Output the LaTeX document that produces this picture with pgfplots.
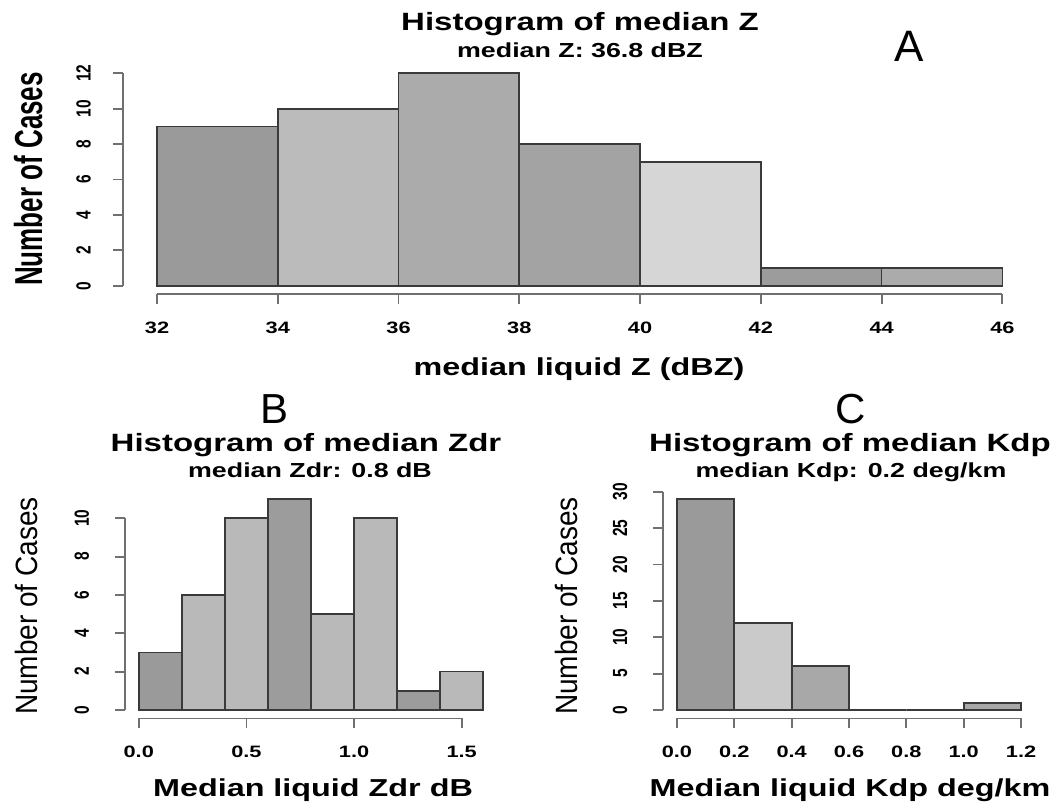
\documentclass[border=0pt]{standalone}
\usepackage{fontspec}
\setmainfont{Liberation Sans}
\usepackage{graphicx}
\usepackage{pgfplots}
\pgfplotsset{compat=1.18}

\definecolor{barline}{HTML}{3A3A3A}
\definecolor{axl}{HTML}{707070}
\definecolor{gA1}{HTML}{9A9A9A}
\definecolor{gA2}{HTML}{BBBBBB}
\definecolor{gA3}{HTML}{ABABAB}
\definecolor{gA4}{HTML}{A3A3A3}
\definecolor{gA5}{HTML}{D6D6D6}
\definecolor{gA6}{HTML}{9C9C9C}
\definecolor{gA7}{HTML}{ABABAB}
\definecolor{gBd}{HTML}{9C9C9C}
\definecolor{gBl}{HTML}{B9B9B9}
\definecolor{gC1}{HTML}{9A9A9A}
\definecolor{gC2}{HTML}{CACACA}
\definecolor{gC3}{HTML}{A8A8A8}

\newcommand{\hs}[1]{\scalebox{1.32}[1]{#1}}
\newcommand{\vs}[1]{\scalebox{1}[1.32]{#1}}
\newcommand{\fs}[1]{\fontsize{#1}{#1}\selectfont}

\tikzset{axln/.style={draw=axl, line width=1.8pt}}
\pgfplotsset{
  rhist/.style={
    scale only axis, clip=false, anchor=south west,
    axis x line*=bottom, axis y line*=left,
    axis line style={draw=none},
    tick align=outside,
    major tick length=10pt,
    tick style={axl, line width=1.8pt},
    xticklabel style={anchor=base, yshift=-29.5pt, font=\bfseries\fs{16.5}},
    yticklabel style={xshift=#1, rotate=90, anchor=base, font=\bfseries\fs{15.5}},
    /pgf/number format/assume math mode=true,
  },
  rhist/.default=-22.5pt,
  hbar/.style={fill=#1, draw=barline, line width=1.7pt},
}

\begin{document}
\begin{tikzpicture}
\path[use as bounding box] (0,0) rectangle (1060pt,806pt);

% ---------------- Panel A ----------------
\begin{axis}[rhist, at={(123.2pt,511.8pt)}, width=913pt, height=229.4pt,
  xmin=31.44, xmax=46.56, ymin=-0.48, ymax=12.48,
  xtick={32,34,36,38,40,42,44,46},
  xticklabels={\hs{32},\hs{34},\hs{36},\hs{38},\hs{40},\hs{42},\hs{44},\hs{46}},
  ytick={0,2,4,6,8,10,12},
  yticklabels={\vs{0},\vs{2},\vs{4},\vs{6},\vs{8},\vs{10},\vs{12}}]
\addplot[hbar=gA1] coordinates {(32,9) (34,9)} \closedcycle;
\addplot[hbar=gA2] coordinates {(34,10) (36,10)} \closedcycle;
\addplot[hbar=gA3] coordinates {(36,12) (38,12)} \closedcycle;
\addplot[hbar=gA4] coordinates {(38,8) (40,8)} \closedcycle;
\addplot[hbar=gA5] coordinates {(40,7) (42,7)} \closedcycle;
\addplot[hbar=gA6] coordinates {(42,1) (44,1)} \closedcycle;
\addplot[hbar=gA7] coordinates {(44,1) (46,1)} \closedcycle;
\draw[axln] (axis cs:32,-0.48) -- (axis cs:46,-0.48);
\draw[axln] (axis cs:31.44,0) -- (axis cs:31.44,12);
\end{axis}

% ---------------- Panel B ----------------
\begin{axis}[rhist=-26pt, at={(125pt,87.6pt)}, width=372pt, height=227.7pt,
  xmin=-0.064, xmax=1.664, ymin=-0.44, ymax=11.44,
  xtick={0,0.5,1,1.5},
  xticklabels={\hs{0.0},\hs{0.5},\hs{1.0},\hs{1.5}},
  ytick={0,2,4,6,8,10},
  yticklabels={\vs{0},\vs{2},\vs{4},\vs{6},\vs{8},\vs{10}}]
\addplot[hbar=gA1] coordinates {(0,3) (0.2,3)} \closedcycle;
\addplot[hbar=gBl] coordinates {(0.2,6) (0.4,6)} \closedcycle;
\addplot[hbar=gBl] coordinates {(0.4,10) (0.6,10)} \closedcycle;
\addplot[hbar=gBd] coordinates {(0.6,11) (0.8,11)} \closedcycle;
\addplot[hbar=gBl] coordinates {(0.8,5) (1.0,5)} \closedcycle;
\addplot[hbar=gBl] coordinates {(1.0,10) (1.2,10)} \closedcycle;
\addplot[hbar=gBd] coordinates {(1.2,1) (1.4,1)} \closedcycle;
\addplot[hbar=gBl] coordinates {(1.4,2) (1.6,2)} \closedcycle;
\draw[axln] (axis cs:0,-0.44) -- (axis cs:1.5,-0.44);
\draw[axln] (axis cs:-0.064,0) -- (axis cs:-0.064,10);
\end{axis}

% ---------------- Panel C ----------------
\begin{axis}[rhist=-26pt, at={(663.2pt,87.6pt)}, width=371.6pt, height=227.7pt,
  xmin=-0.048, xmax=1.248, ymin=-1.16, ymax=30.16,
  xtick={0,0.2,0.4,0.6,0.8,1.0,1.2},
  xticklabels={\hs{0.0},\hs{0.2},\hs{0.4},\hs{0.6},\hs{0.8},\hs{1.0},\hs{1.2}},
  ytick={0,5,10,15,20,25,30},
  yticklabels={\vs{0},\vs{5},\vs{10},\vs{15},\vs{20},\vs{25},\vs{30}}]
\addplot[hbar=gC1] coordinates {(0,29) (0.2,29)} \closedcycle;
\addplot[hbar=gC2] coordinates {(0.2,12) (0.4,12)} \closedcycle;
\addplot[hbar=gC3] coordinates {(0.4,6) (0.6,6)} \closedcycle;
\addplot[hbar=gC3] coordinates {(0.6,0) (0.8,0)} \closedcycle;
\addplot[hbar=gC3] coordinates {(0.8,0) (1.0,0)} \closedcycle;
\addplot[hbar=gC3] coordinates {(1.0,1) (1.2,1)} \closedcycle;
\draw[axln] (axis cs:0,-1.16) -- (axis cs:1.2,-1.16);
\draw[axln] (axis cs:-0.048,0) -- (axis cs:-0.048,30);
\end{axis}

% ---------------- Texts ----------------
\node[anchor=base, font=\bfseries\fs{25}] at (580pt,775.3pt) {\hs{Histogram of median Z}};
\node[anchor=base, font=\bfseries\fs{20.3}] at (580pt,748.7pt) {\hs{median Z: 36.8 dBZ}};
\node[anchor=base, font=\fs{44}] at (909pt,744pt) {A};
\node[anchor=base, font=\bfseries\fs{24.5}] at (579pt,430pt) {\hs{median liquid Z (dBZ)}};
\node[anchor=base, rotate=90, font=\bfseries\fs{26}] at (42pt,627pt) {\scalebox{1}[1.5]{Number of Cases}};

\node[anchor=base, font=\fs{42}] at (275pt,382pt) {B};
\node[anchor=base, font=\bfseries\fs{25}] at (306pt,354.3pt) {\hs{Histogram of median Zdr}};
\node[anchor=base, font=\bfseries\fs{20.3}] at (310pt,328.7pt) {\hs{median Zdr: 0.8 dB}};
\node[anchor=base, font=\bfseries\fs{24.5}] at (313pt,10pt) {\hs{Median liquid Zdr dB}};
\node[anchor=base, rotate=90, font=\fs{28}] at (37pt,200pt) {\scalebox{1}[1.1]{Number of Cases}};

\node[anchor=base, font=\fs{42}] at (851pt,382pt) {C};
\node[anchor=base, font=\bfseries\fs{25}] at (850pt,354.3pt) {\hs{Histogram of median Kdp}};
\node[anchor=base, font=\bfseries\fs{20.3}] at (851pt,328.7pt) {\hs{median Kdp: 0.2 deg/km}};
\node[anchor=base, font=\bfseries\fs{24.5}] at (850pt,10pt) {\hs{Median liquid Kdp deg/km}};
\node[anchor=base, rotate=90, font=\fs{28}] at (577.6pt,200pt) {\scalebox{1}[1.1]{Number of Cases}};
\end{tikzpicture}
\end{document}
